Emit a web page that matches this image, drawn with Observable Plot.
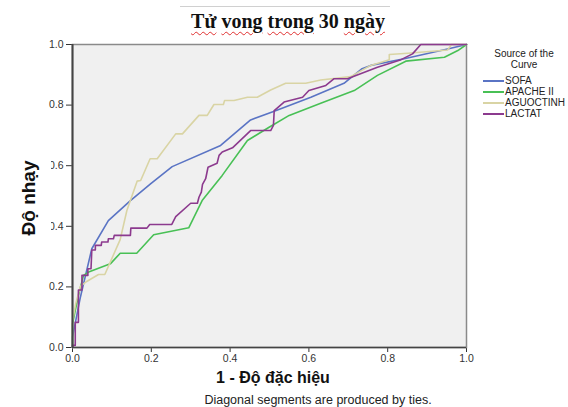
<!DOCTYPE html>
<html><head><meta charset="utf-8">
<script src="https://cdn.jsdelivr.net/npm/d3@7"></script>
<script src="https://cdn.jsdelivr.net/npm/@observablehq/plot@0.6"></script>
<style>
body{margin:0;background:#fff;}
#wrap{position:relative;width:568px;height:407px;overflow:hidden;font-family:"Liberation Sans",Arial,sans-serif;color:#111;}
#topline{position:absolute;left:180px;top:6px;width:210px;height:1px;background:#d0d0d0;}
#title{position:absolute;left:0;top:10px;width:576px;text-align:center;font-family:"Liberation Serif","Times New Roman",serif;font-weight:bold;font-size:20px;color:#111;}
#title .sp{text-decoration:underline wavy #e03030;text-decoration-thickness:1px;text-underline-offset:3px;}
#chart{position:absolute;left:0;top:30px;}
#ylab{position:absolute;left:6px;top:150px;width:45px;height:96px;background:#fff;}
#ylab span{position:absolute;left:50%;top:50%;transform:translate(-50%,-50%) rotate(-90deg);white-space:nowrap;font-weight:bold;font-size:19px;color:#111;}
#xlab{position:absolute;left:173px;width:200px;top:369px;text-align:center;font-weight:bold;font-size:16px;}
#caption{position:absolute;left:118px;width:400px;top:393px;text-align:center;font-size:12.5px;color:#222;}
#legend{position:absolute;left:478px;top:49px;width:92px;font-size:10px;color:#222;}
#legend .lt{text-align:center;line-height:10.5px;}
#legend .row{position:relative;height:11px;line-height:11px;}
#legend .sw{position:absolute;left:5px;top:5px;width:21px;height:2px;}
#legend .lb{position:absolute;left:27px;top:0;white-space:nowrap;}
</style></head><body>
<div id="wrap">
 <div id="topline"></div>
 <div id="title"><span class="sp">Tử</span> <span class="sp">vong</span> <span class="sp">trong</span> 30 <span class="sp">ngày</span></div>
 <div id="chart"></div>
 <div id="ylab"><span>Độ nhạy</span></div>
 <div id="xlab">1 - Độ đặc hiệu</div>
 <div id="legend"></div>
 <div id="caption">Diagonal segments are produced by ties.</div>
</div>
<script>
// [1 - specificity, sensitivity]
const sofa = [[0,0],[0,0.034],[0.020,0.166],[0.049,0.326],[0.091,0.419],[0.147,0.485],[0.198,0.540],[0.253,0.597],[0.376,0.667],[0.452,0.751],[0.512,0.780],[0.605,0.826],[0.689,0.872],[0.735,0.920],[0.757,0.931],[0.842,0.953],[0.952,0.985],[1,1]];
const apache = [[0,0],[0,0.078],[0.015,0.172],[0.028,0.238],[0.041,0.249],[0.096,0.276],[0.121,0.311],[0.163,0.311],[0.206,0.372],[0.295,0.395],[0.329,0.485],[0.380,0.568],[0.444,0.683],[0.499,0.727],[0.550,0.766],[0.630,0.806],[0.715,0.848],[0.774,0.898],[0.846,0.945],[0.944,0.958],[0.978,0.980],[1,1]];
const aguoctinh = [[0,0],[0,0.086],[0.008,0.144],[0.020,0.202],[0.036,0.218],[0.066,0.241],[0.082,0.241],[0.121,0.356],[0.138,0.452],[0.164,0.549],[0.173,0.551],[0.197,0.623],[0.215,0.623],[0.262,0.705],[0.279,0.705],[0.321,0.766],[0.342,0.766],[0.359,0.802],[0.383,0.802],[0.386,0.815],[0.410,0.815],[0.444,0.826],[0.469,0.826],[0.503,0.850],[0.541,0.872],[0.592,0.872],[0.630,0.883],[0.706,0.894],[0.757,0.931],[0.804,0.950],[0.804,0.967],[0.851,0.971],[0.952,0.982],[0.962,1.0],[1,1]];
const lactat = [[0,0],[0,0.007],[0.007,0.007],[0.007,0.083],[0.015,0.083],[0.015,0.190],[0.024,0.190],[0.024,0.238],[0.039,0.238],[0.039,0.260],[0.047,0.260],[0.049,0.322],[0.058,0.322],[0.058,0.337],[0.073,0.337],[0.074,0.348],[0.090,0.348],[0.091,0.359],[0.104,0.359],[0.106,0.370],[0.147,0.370],[0.148,0.394],[0.189,0.394],[0.196,0.406],[0.252,0.406],[0.262,0.432],[0.300,0.476],[0.317,0.476],[0.321,0.496],[0.327,0.513],[0.330,0.538],[0.338,0.557],[0.344,0.595],[0.367,0.608],[0.372,0.634],[0.380,0.645],[0.406,0.659],[0.452,0.716],[0.503,0.716],[0.510,0.733],[0.512,0.782],[0.537,0.810],[0.584,0.826],[0.600,0.848],[0.643,0.865],[0.664,0.887],[0.698,0.887],[0.774,0.925],[0.834,0.950],[0.863,0.969],[0.884,1.0],[1,1]];

const seriesNames = ["SOFA", "APACHE II", "AGUOCTINH", "LACTAT"];
const seriesData = [sofa, apache, aguoctinh, lactat];
const tickValues = [0, 0.2, 0.4, 0.6, 0.8, 1.0];
const legendTitle = ["Source of the", "Curve"];

const colors = ["#5a74c4", "#48c055", "#d9d4a4", "#8c3a8e"];

const rows = [];
seriesNames.forEach((name, i) => seriesData[i].forEach(([fpr, tpr]) => rows.push({series: name, fpr, tpr})));

const chart = Plot.plot({
  width: 568,
  height: 340,
  marginTop: 14,
  marginBottom: 23,
  marginLeft: 72,
  marginRight: 102,
  style: {fontFamily: "'Liberation Sans', Arial, sans-serif", fontSize: "10.5px", color: "#333", background: "transparent"},
  x: {domain: [0, 1], ticks: tickValues, tickFormat: d3.format(".1f"), tickSize: 5, tickPadding: 2, label: null},
  y: {domain: [0, 1], ticks: tickValues, tickFormat: d3.format(".1f"), tickSize: 6, tickPadding: 3, label: null},
  color: {domain: seriesNames, range: colors},
  marks: [
    Plot.frame({fill: "#f0f0f0", stroke: "#8a8a8a", strokeWidth: 1.5}),
    Plot.line(rows, {x: "fpr", y: "tpr", z: "series", stroke: "series", strokeWidth: 1.6}),
    Plot.ruleX([0], {stroke: "#444", strokeWidth: 2}),
    Plot.ruleY([0], {stroke: "#444", strokeWidth: 1.5})
  ]
});
document.getElementById("chart").appendChild(chart);

const lg = document.getElementById("legend");
legendTitle.forEach(t => { const d = document.createElement("div"); d.className = "lt"; d.textContent = t; lg.appendChild(d); });
const sp = document.createElement("div"); sp.style.height = "5px"; lg.appendChild(sp);
seriesNames.forEach((n, i) => {
  const r = document.createElement("div"); r.className = "row";
  const s = document.createElement("div"); s.className = "sw"; s.style.background = colors[i];
  const l = document.createElement("div"); l.className = "lb"; l.textContent = n;
  r.appendChild(s); r.appendChild(l); lg.appendChild(r);
});
</script>
</body></html>
